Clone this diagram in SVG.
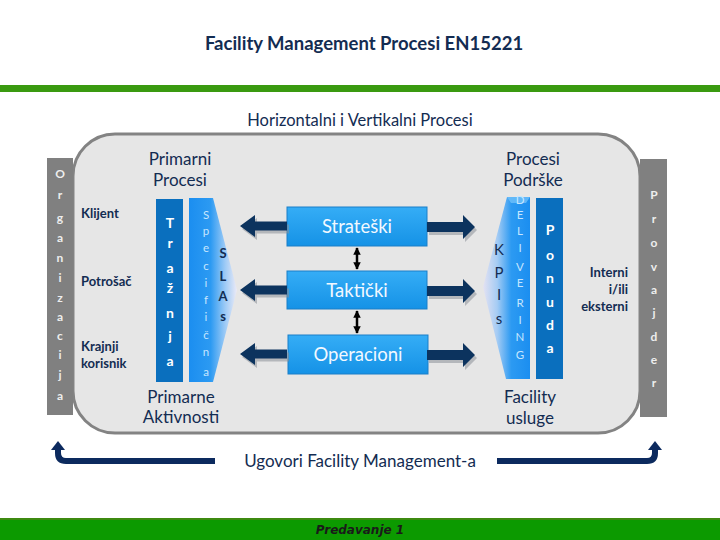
<svg xmlns="http://www.w3.org/2000/svg" width="720" height="540" viewBox="0 0 720 540">
<defs>
<style>
.t{font-family:Lato,"Open Sans","Liberation Sans",sans-serif;fill:#132c52}
.c{text-anchor:middle}
.b{font-weight:bold}
.wl{font-family:Lato,"Liberation Sans",sans-serif;font-weight:bold;fill:#ffffff;text-anchor:middle;font-size:14px}
.gl{font-family:Lato,"Liberation Sans",sans-serif;font-weight:bold;fill:#eeeeee;text-anchor:middle;font-size:12px}
.sl{font-family:Lato,"Liberation Sans",sans-serif;fill:#c6e6ff;text-anchor:middle;font-size:11.5px}
.box{fill:url(#boxg);stroke:#1a7fc8;stroke-width:1}
.bt{font-family:Lato,"Open Sans",sans-serif;fill:#f2f8ff;text-anchor:middle;font-size:18.5px}
.arr{fill:#0c335e}
.sh{fill:#8a9098;opacity:0.55}
.h{font-size:17px}
</style>
<linearGradient id="boxg" x1="0" y1="0" x2="0" y2="1">
<stop offset="0" stop-color="#35adf6"/>
<stop offset="1" stop-color="#1592e6"/>
</linearGradient>
<linearGradient id="specg" x1="189" y1="0" x2="237" y2="0" gradientUnits="userSpaceOnUse">
<stop offset="0" stop-color="#1b8ef0"/>
<stop offset="0.45" stop-color="#2c9af2"/>
<stop offset="0.75" stop-color="#9ccaf6"/>
<stop offset="1" stop-color="#eceaf6"/>
</linearGradient>
<linearGradient id="kpig" x1="530" y1="0" x2="483" y2="0" gradientUnits="userSpaceOnUse">
<stop offset="0" stop-color="#1b8ef0"/>
<stop offset="0.4" stop-color="#2c9af2"/>
<stop offset="0.7" stop-color="#a6ccf4"/>
<stop offset="1" stop-color="#e4e2f2"/>
</linearGradient>
<path id="la" d="M0,0 L15,-11 L15,-4.5 L47,-4.5 L47,4.5 L15,4.5 L15,11 Z"/>
<path id="ra" d="M0,0 L-12,-12 L-12,-5 L-48,-5 L-48,5 L-12,5 L-12,12 Z"/>
<marker id="dh" viewBox="0 0 10 10" refX="9" refY="5" markerWidth="3" markerHeight="3" orient="auto-start-reverse">
<path d="M0,0 L10,5 L0,10 Z" fill="#000"/>
</marker>
</defs>
<rect width="720" height="540" fill="#ffffff"/>

<g id="header">
<text class="t c b" x="364" y="50" font-size="18.5" fill="#1a2a4a">Facility Management Procesi EN15221</text>
<rect x="0" y="85" width="720" height="7" fill="#3a9a10"/>
<text class="t c" x="360" y="126" font-size="16.5">Horizontalni i Vertikalni Procesi</text>
</g>

<g id="main-frame">
<rect x="73" y="134" width="567" height="299" rx="42" ry="42" fill="#e6e6e6" stroke="#838383" stroke-width="3"/>
</g>

<g id="organizacija">
<rect x="47" y="158" width="26" height="257" fill="#808080"/>
<text class="gl" x="60" y="178">O</text>
<text class="gl" x="60" y="199">r</text>
<text class="gl" x="60" y="222">g</text>
<text class="gl" x="60" y="242">a</text>
<text class="gl" x="60" y="262">n</text>
<text class="gl" x="60" y="282">i</text>
<text class="gl" x="60" y="302">z</text>
<text class="gl" x="60" y="321">a</text>
<text class="gl" x="60" y="340">c</text>
<text class="gl" x="60" y="359">i</text>
<text class="gl" x="60" y="379">j</text>
<text class="gl" x="60" y="400">a</text>
</g>

<g id="provajder">
<rect x="640" y="159" width="27" height="258" fill="#808080"/>
<text class="gl" x="654" y="199" font-size="13">P</text>
<text class="gl" x="654" y="223" font-size="13">r</text>
<text class="gl" x="654" y="247" font-size="13">o</text>
<text class="gl" x="654" y="271" font-size="13">v</text>
<text class="gl" x="654" y="294" font-size="13">a</text>
<text class="gl" x="654" y="317" font-size="13">j</text>
<text class="gl" x="654" y="341" font-size="13">d</text>
<text class="gl" x="654" y="364" font-size="13">e</text>
<text class="gl" x="654" y="387" font-size="13">r</text>
</g>

<g id="korisnici">
<text class="t b" x="81" y="218" font-size="13">Klijent</text>
<text class="t b" x="81" y="286" font-size="13">Potrošač</text>
<text class="t b" x="81" y="351" font-size="13">Krajnji</text>
<text class="t b" x="81" y="368" font-size="13">korisnik</text>
</g>

<g id="primarni-procesi">
<text class="t c h" x="180" y="165">Primarni</text>
<text class="t c h" x="180" y="186">Procesi</text>
<text class="t c h" x="181" y="403">Primarne</text>
<text class="t c h" x="181" y="423">Aktivnosti</text>
</g>

<g id="traznja">
<rect x="156" y="199" width="27" height="183" fill="#0a6fbe"/>
<text class="wl" x="170" y="228" font-size="16">T</text>
<text class="wl" x="170" y="248">r</text>
<text class="wl" x="170" y="273">a</text>
<text class="wl" x="170" y="293">ž</text>
<text class="wl" x="170" y="318">n</text>
<text class="wl" x="170" y="341">j</text>
<text class="wl" x="170" y="366">a</text>
</g>

<g id="specificna">
<path d="M189,198 L213,198 L237,290 L213,382 L189,382 Z" fill="url(#specg)"/>
<text class="sl" x="206" y="219">S</text>
<text class="sl" x="206" y="235">p</text>
<text class="sl" x="206" y="252">e</text>
<text class="sl" x="206" y="270">c</text>
<text class="sl" x="206" y="287">i</text>
<text class="sl" x="206" y="304">f</text>
<text class="sl" x="206" y="321">i</text>
<text class="sl" x="206" y="339">č</text>
<text class="sl" x="206" y="356">n</text>
<text class="sl" x="206" y="376">a</text>
</g>

<g id="slas">
<text class="t c b" x="223" y="258" font-size="13">S</text>
<text class="t c b" x="223" y="281" font-size="13">L</text>
<text class="t c b" x="223" y="301" font-size="13">A</text>
<text class="t c b" x="223" y="321" font-size="13">s</text>
</g>

<g id="strateski">
<rect class="box" x="287" y="207" width="140" height="39"/>
<text class="bt" x="357" y="233">Strateški</text>
</g>
<g id="takticki">
<rect class="box" x="287" y="271" width="140" height="38"/>
<text class="bt" x="357" y="297">Taktički</text>
</g>
<g id="operacioni">
<rect class="box" x="288" y="335" width="140" height="39"/>
<text class="bt" x="358" y="361">Operacioni</text>
</g>

<g id="kpis">
<path d="M507,197 L530,197 L530,379 L506,379 L483,287 Z" fill="url(#kpig)"/>
<path d="M507,197 L530,197 L526,203 L511,203 Z" fill="#6fc0fa" opacity="0.8"/>
<text class="sl" x="520" y="204">D</text>
<text class="sl" x="520" y="219">E</text>
<text class="sl" x="520" y="235">L</text>
<text class="sl" x="520" y="252">I</text>
<text class="sl" x="520" y="271">V</text>
<text class="sl" x="520" y="287">E</text>
<text class="sl" x="520" y="307">R</text>
<text class="sl" x="520" y="324">I</text>
<text class="sl" x="520" y="341">N</text>
<text class="sl" x="520" y="359">G</text>
<text class="t c" x="499" y="255" font-size="15">K</text>
<text class="t c" x="499" y="278" font-size="15">P</text>
<text class="t c" x="499" y="300" font-size="15">I</text>
<text class="t c" x="499" y="324" font-size="15">s</text>
</g>

<g id="ponuda">
<rect x="536" y="198" width="27" height="181" fill="#0a6fbe"/>
<text class="wl" x="550" y="235">P</text>
<text class="wl" x="550" y="260">o</text>
<text class="wl" x="550" y="283">n</text>
<text class="wl" x="550" y="307">u</text>
<text class="wl" x="550" y="330">d</text>
<text class="wl" x="550" y="353">a</text>
</g>

<g id="procesi-podrske">
<text class="t c h" x="533" y="165">Procesi</text>
<text class="t c h" x="533" y="186">Podrške</text>
<text class="t c h" x="530" y="403">Facility</text>
<text class="t c h" x="530" y="424">usluge</text>
</g>

<g id="interni">
<text class="t b" x="628" y="277" font-size="13" text-anchor="end">Interni</text>
<text class="t b" x="628" y="294" font-size="13" text-anchor="end">i/ili</text>
<text class="t b" x="628" y="311" font-size="13" text-anchor="end">eksterni</text>
</g>

<g id="connectors">
<use href="#la" class="sh" transform="translate(242,229)"/>
<use href="#la" class="arr" transform="translate(240,226)"/>
<use href="#la" class="sh" transform="translate(242,293)"/>
<use href="#la" class="arr" transform="translate(240,290)"/>
<use href="#la" class="sh" transform="translate(242,357)"/>
<use href="#la" class="arr" transform="translate(240,354)"/>
<use href="#ra" class="sh" transform="translate(477,230)"/>
<use href="#ra" class="arr" transform="translate(475,227)"/>
<use href="#ra" class="sh" transform="translate(477,294)"/>
<use href="#ra" class="arr" transform="translate(475,291)"/>
<use href="#ra" class="sh" transform="translate(477,358)"/>
<use href="#ra" class="arr" transform="translate(475,355)"/>
<line x1="357" y1="248" x2="357" y2="269" stroke="#000" stroke-width="2.5" marker-start="url(#dh)" marker-end="url(#dh)"/>
<line x1="357" y1="311" x2="357" y2="333" stroke="#000" stroke-width="2.5" marker-start="url(#dh)" marker-end="url(#dh)"/>
<path d="M215,461 L66,461 Q58,461 58,453 L58,449" fill="none" stroke="#0c2a5e" stroke-width="6"/>
<path d="M51,450 L58,441 L65,450 Z" fill="#0c2a5e"/>
<path d="M497,461 L647,461 Q655,461 655,453 L655,449" fill="none" stroke="#0c2a5e" stroke-width="6"/>
<path d="M648,450 L655,441 L662,450 Z" fill="#0c2a5e"/>
</g>

<g id="ugovori">
<text class="t c" x="360" y="467" font-size="17">Ugovori Facility Management-a</text>
</g>

<g id="footer">
<rect x="0" y="518" width="720" height="22" fill="#0c9a00"/>
<rect x="0" y="518" width="720" height="2" fill="#3d8a10"/>
<text x="360" y="534" text-anchor="middle" font-family="'DejaVu Sans',sans-serif" font-style="italic" font-weight="bold" font-size="12" fill="#1a1a1a">Predavanje 1</text>
</g>
</svg>
